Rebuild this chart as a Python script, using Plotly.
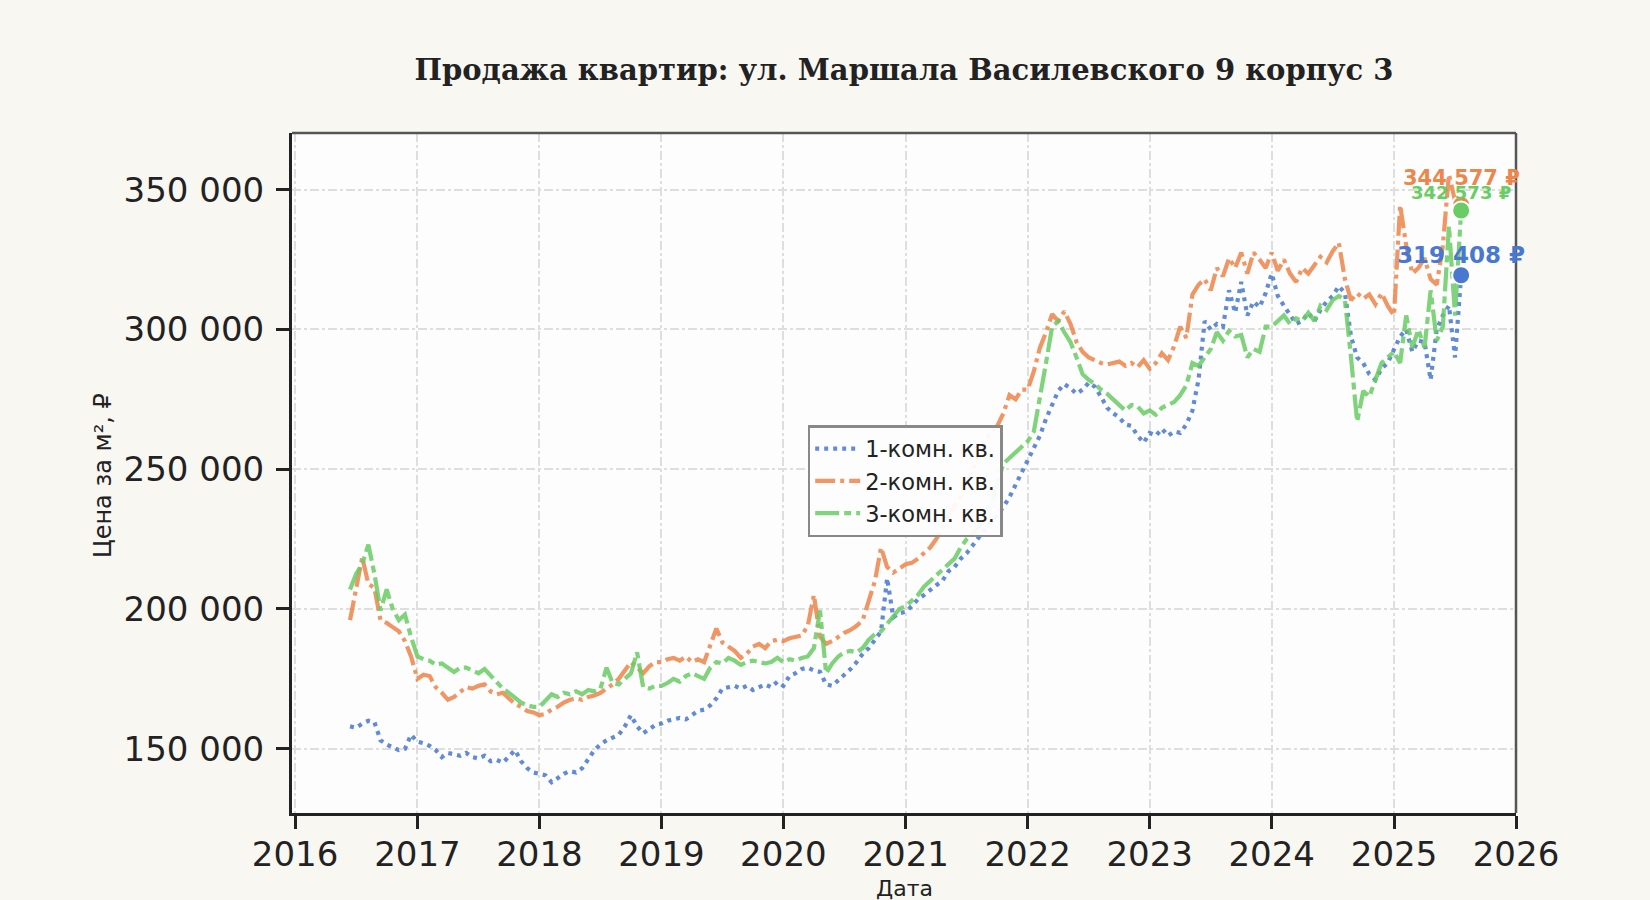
import pandas as pd
import plotly.graph_objects as go

# ---------------- data: observation dates (fractional years) and price per m2 ----------------
# observations every 0.05 year, 2016.45 ... 2025.55
t_obs = [round(2016.45 + 0.05 * k, 2) for k in range(183)]

v1 = [  # 1-комн.
    158000, 157500, 159000, 160000, 159500, 153000, 151500, 150500, 149500, 150000, 155000,
    152500, 152000, 151000, 149500, 147000, 148500, 148000, 147500, 148500, 147000,
    146500, 147500, 145500, 146000, 145000, 147500, 149500, 145500, 143000, 141500,
    141000, 140500, 138000, 139500, 141000, 142000, 141500, 143000, 146000, 149500,
    151500, 153000, 154000, 155000, 158000, 162000, 158000, 155500, 157000, 158500,
    159000, 160000, 160500, 161000, 160500, 162000, 163500, 164000, 165500, 168000,
    171500, 172000, 172500, 171500, 172500, 171000, 172000, 173000, 172000, 174000,
    172500, 176000, 177000, 178500, 179000, 178000, 177500, 173000, 172500, 174500,
    176000, 178500, 181000, 184000, 186000, 189000, 192000, 211000, 197000, 198500,
    199000, 201000, 203500, 205000, 207000, 208500, 210000, 213500, 215000, 218000,
    220000, 223000, 226000, 228500, 231000, 233500, 236500, 240000, 244500, 249000,
    253000, 258000, 262000, 268000, 273000, 278000, 280500, 279000, 277000, 278500,
    281000, 279500, 276000, 272000, 270000, 268500, 266000, 265500, 262000, 259500,
    263000, 262000, 264500, 262000, 263500, 263000, 266000, 271000, 282000, 303000,
    300000, 302000, 301000, 314000, 306000, 317000, 305000, 310000, 308000, 313000,
    320000, 312000, 308500, 305000, 302000, 303000, 306000, 303000, 307000, 310000,
    312000, 315500, 313000, 297500, 290000, 288000, 284000, 282000, 286000, 288000,
    293000, 297500, 300000, 292000, 296000, 295500, 282000, 300000, 305000, 308500,
    290000, 319408]

v2 = [  # 2-комн.
    196000, 207000, 218500, 209000, 207500, 196000, 195000, 193500, 192000, 188500, 183000,
    175000, 176500, 176000, 172000, 170000, 167500, 168500, 170500, 172000, 171500,
    172500, 173000, 170500, 169500, 170000, 168000, 166000, 165000, 163500, 163000,
    162000, 162500, 164000, 165000, 166500, 167500, 168000, 167500, 168500, 169000,
    170000, 171500, 173000, 175000, 178000, 181000, 179000, 177000, 179500, 181000,
    181000, 182000, 182500, 181500, 183000, 181000, 182000, 181000, 187000, 193000,
    188000, 186500, 185000, 182500, 184000, 186500, 187500, 186000, 188500, 189000,
    188500, 189500, 190000, 190500, 194000, 205000, 190000, 187500, 188500, 190000,
    191500, 192500, 194000, 196000, 203500, 210000, 222000, 215000, 213000, 214500,
    216000, 216500, 218000, 220000, 222000, 225000, 229000, 233500, 237000, 240500,
    244500, 250000, 256000, 260000, 263500, 265500, 270000, 276500, 275000, 278500,
    278500, 285000, 293500, 299000, 305500, 303000, 306500, 302000, 295500, 292000,
    290000, 289000, 288000, 287500, 288000, 288500, 287000, 288000, 286500, 289000,
    286000, 288000, 291500, 289000, 294000, 301000, 297000, 312500, 316000, 318000,
    314000, 322000, 319000, 325500, 322000, 327500, 320000, 327500, 325000, 322000,
    327500, 321000, 325000, 320000, 317000, 322000, 320000, 323000, 326000, 324000,
    328000, 331000, 318000, 310500, 313000, 311000, 312500, 309000, 313000, 308500,
    305000, 344500, 330000, 320000, 322000, 325500, 318000, 316000, 330000, 355500,
    346000, 344577]

v3 = [  # 3-комн.
    207000, 212500, 216000, 223000, 212500, 199500, 207000, 200000, 196000, 198000, 190000,
    183000, 182000, 181500, 180000, 180500, 179000, 177500, 179000, 179000, 178000,
    177000, 178500, 176000, 174000, 171500, 170000, 168000, 166500, 165500, 165000,
    165000, 167000, 169500, 168500, 170000, 169500, 170500, 169500, 171000, 170500,
    171500, 179000, 173500, 173000, 175000, 177000, 184500, 172000, 171500, 172500,
    172500, 173500, 175000, 174000, 176000, 177000, 176000, 175000, 179000, 181000,
    180500, 182500, 181500, 180000, 181000, 181500, 181000, 180500, 181000, 182500,
    181000, 182000, 181500, 182500, 183000, 186000, 199500, 177000, 180500, 183000,
    184500, 185000, 184500, 186000, 189000, 191000, 192000, 194500, 197500, 200000,
    201000, 203000, 205000, 208000, 210000, 212500, 214500, 216000, 218000, 222000,
    225000, 227000, 229500, 233000, 237000, 245000, 252000, 254000, 256000, 258000,
    260000, 263500, 275000, 288000, 301000, 303000, 299000, 295500, 290000, 284000,
    282000, 280500, 278500, 277000, 275000, 273000, 271000, 273000, 272500, 270000,
    271000, 269500, 272000, 273000, 274000, 276500, 280000, 288000, 287000, 290000,
    293000, 299000, 296000, 299500, 297500, 298000, 290000, 293000, 292000, 301000,
    301000, 303000, 305000, 302000, 304000, 303000, 306000, 303000, 308500, 307000,
    310500, 312000, 310500, 290000, 267000, 278000, 276000, 282000, 288000, 290000,
    292000, 288000, 305000, 293500, 300000, 293500, 314000, 296000, 301000, 337000,
    305000, 342573]

names = ["1-комн. кв.", "2-комн. кв.", "3-комн. кв."]
colors = ["#4878d0", "#ee854a", "#6acc64"]
dashes = ["4px,5px", "20px,5px,4px,5px", "24px,5px,7px,5px"]
label_sizes = [23, 21, 18]
title = "Продажа квартир: ул. Маршала Василевского 9 корпус 3"
y_ticks = [150000, 200000, 250000, 300000, 350000]
x_ticks = [str(y) for y in range(2016, 2027)]


def to_date(f):
    year = int(f)
    return pd.Timestamp(year, 1, 1) + pd.Timedelta(days=(f - year) * 365.25)


def fmt(v):
    return f"{v:,}".replace(",", " ") + " ₽"


dates = [to_date(f) for f in t_obs]
series = [v1, v2, v3]

fig = go.Figure()
for v, n, c, d in zip(series, names, colors, dashes):
    fig.add_trace(go.Scatter(
        x=dates, y=v, mode="lines", name=n,
        line=dict(color=c, width=4.2, dash=d), opacity=0.85,
    ))

# end markers: orange first (behind), then green, then blue
label_shift = {0: 20, 1: 27, 2: 18}
for i in [1, 2, 0]:
    v = series[i]
    fig.add_trace(go.Scatter(
        x=[dates[-1]], y=[v[-1]], mode="markers", showlegend=False,
        marker=dict(color=colors[i], size=18, line=dict(color="white", width=2)),
    ))
    fig.add_annotation(
        x=dates[-1], y=v[-1], text=f"<b>{fmt(v[-1])}</b>", showarrow=False,
        yshift=label_shift[i], xshift=0, xanchor="center", yanchor="middle",
        font=dict(family="DejaVu Sans", size=label_sizes[i], color=colors[i]),
    )

fig.add_annotation(x=-0.155, y=0.496, xref="paper", yref="paper", text="Цена за м², ₽",
                   textangle=-90, showarrow=False, xanchor="center", yanchor="middle",
                   font=dict(family="DejaVu Sans", size=24, color="#222222"))
fig.add_annotation(x=0.5006, y=-0.111, xref="paper", yref="paper", text="Дата",
                   showarrow=False, xanchor="center", yanchor="middle",
                   font=dict(family="DejaVu Sans", size=22, color="#222222"))

# top / right spines (grey)
fig.add_shape(type="line", xref="paper", yref="paper", x0=0, x1=1, y0=1, y1=1,
              line=dict(color="#555555", width=2.5))
fig.add_shape(type="line", xref="paper", yref="paper", x0=1, x1=1, y0=0, y1=1,
              line=dict(color="#555555", width=2.5))

fig.update_layout(
    width=1650, height=900,
    paper_bgcolor="#f8f7f2", plot_bgcolor="#fdfdfd",
    margin=dict(l=292, r=134, t=133, b=87),
    separators=", ",
    title=dict(text=f"<b>{title}</b>", x=0.5, xref="paper", y=0.922, yanchor="middle",
               font=dict(family="DejaVu Serif", size=29, color="#222222")),
    font=dict(family="DejaVu Sans", color="#222222"),
    legend=dict(x=0.4213, y=0.5705, xanchor="left", yanchor="top",
                bgcolor="rgba(253,253,253,0.95)", bordercolor="#888888", borderwidth=2.5,
                font=dict(family="DejaVu Sans", size=22.5, color="#222222"),
                tracegroupgap=2, itemwidth=45),
    showlegend=True,
)
fig.update_xaxes(
    range=[to_date(2015.974), pd.Timestamp(2026, 1, 1)],
    tickvals=[pd.Timestamp(int(s), 1, 1) for s in x_ticks], ticktext=x_ticks,
    ticks="outside", ticklen=13, tickwidth=3, tickcolor="#222222",
    ticklabelstandoff=-4,
    tickfont=dict(size=34, family="DejaVu Sans", color="#222222"),
    showline=True, linecolor="#222222", linewidth=3,
    showgrid=True, gridcolor="#dedede", gridwidth=2.4, griddash="dashdot", zeroline=False,
)
fig.update_yaxes(
    range=[127000, 370300],
    tickvals=y_ticks, tickformat=",d",
    ticks="outside", ticklen=13, tickwidth=3, tickcolor="#222222",
    ticklabelstandoff=5,
    tickfont=dict(size=34, family="DejaVu Sans", color="#222222"),
    showline=True, linecolor="#222222", linewidth=3,
    showgrid=True, gridcolor="#dedede", gridwidth=2.4, griddash="dashdot", zeroline=False,
)

fig.write_html("out.html", post_script="document.body.style.margin='0';",
               config={"displayModeBar": False})
